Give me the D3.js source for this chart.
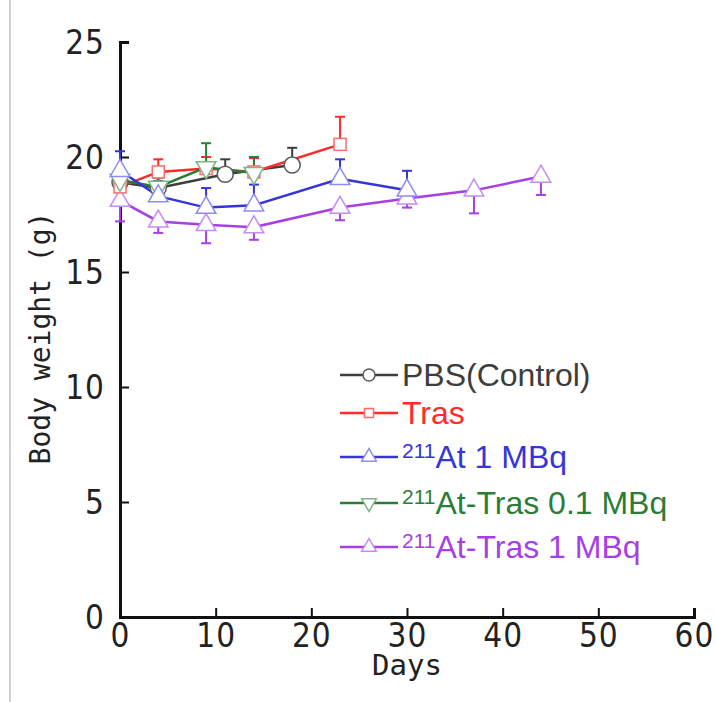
<!DOCTYPE html>
<meta charset="utf-8">
<style type="text/css">
    body{
        margin: 0;
        background: #fff;
    }
    svg{
      display: block;
    }
    .axis text{
        font-family: "Liberation Sans Narrow", "DejaVu Sans Condensed", sans-serif;
        font-size: 33px;
        letter-spacing: 1px;
        fill: #222;
    }
    .legend text{
        font-family: "Liberation Sans", Arial, sans-serif;
        font-size: 32px;
    }
</style>
<body>
<script src="https://cdn.jsdelivr.net/npm/d3@7"></script>
<script>

// series names (legend order)
var names = ["PBS(Control)", "Tras", "211At 1 MBq", "211At-Tras 0.1 MBq", "211At-Tras 1 MBq"];

// days measured for each group
var pbsDays   = [0, 4, 11, 18],
    trasDays  = [0, 4, 9, 14, 23],
    at1Days   = [0, 4, 9, 14, 23, 30],
    atT01Days = [0, 4, 9, 14],
    atT1Days  = [0, 4, 9, 14, 23, 30, 37, 44];

// mean body weight (g)
var pbsMean   = [18.9, 18.65, 19.25, 19.65],
    trasMean  = [18.7, 19.35, 19.5, 19.35, 20.55],
    at1Mean   = [19.4, 18.3, 17.8, 17.9, 19.05, 18.55],
    atT01Mean = [19.0, 18.7, 19.55, 19.3],
    atT1Mean  = [18.1, 17.2, 17.05, 16.95, 17.8, 18.2, 18.55, 19.15];

// error bar size (SD); positive = drawn up, negative = drawn down
var pbsErr   = [0.3, 0.3, 0.65, 0.75],
    trasErr  = [0.4, 0.55, 0.5, 0.6, 1.2],
    at1Err   = [0.85, 0.5, 0.85, 0.9, 0.85, 0.85],
    atT01Err = [0.3, 0.4, 1.05, 0.7],
    atT1Err  = [-0.9, -0.5, -0.8, -0.55, -0.55, -0.4, -1.0, -0.8];

var xTicks = [0, 10, 20, 30, 40, 50, 60],
    yTicks = [0, 5, 10, 15, 20, 25];

function pack(days, mean, err){
  return days.map(function(d, i){ return {day: d, w: mean[i], e: err[i]}; });
}

//line colour, marker colour, marker shape (in drawing order)
var series = [
  {name: names[0], pts: pack(pbsDays, pbsMean, pbsErr),      line: "#3d3d3d", mk: "#5a5a5a", shape: "circ"},
  {name: names[4], pts: pack(atT1Days, atT1Mean, atT1Err),   line: "#a63fe6", mk: "#c58cf2", shape: "tri"},
  {name: names[1], pts: pack(trasDays, trasMean, trasErr),   line: "#ff2a2a", mk: "#ff6a6a", shape: "sq"},
  {name: names[3], pts: pack(atT01Days, atT01Mean, atT01Err),line: "#2a7d36", mk: "#7fb585", shape: "dtri"},
  {name: names[2], pts: pack(at1Days, at1Mean, at1Err),      line: "#3535d8", mk: "#8d8df0", shape: "tri"}
];

var width = 716, height = 702;

var svg = d3.select("body")
  .append("svg")
  .attr("width", width)
  .attr("height", height);

// thin gray border line on the left of the picture
svg.append("line")
  .attr("x1", 10).attr("x2", 10)
  .attr("y1", 0).attr("y2", height)
  .attr("stroke", "#cfcfcf")
  .attr("stroke-width", 2);

var x = d3.scaleLinear().domain([0, 60]).range([120, 694]);
var y = d3.scaleLinear().domain([0, 25]).range([617, 42]);

// y axis, ticks pointing inward
var yAxis = svg.append("g")
  .attr("class", "axis")
  .attr("transform", "translate(" + x(0) + ",0)")
  .call(d3.axisRight(y).tickValues(yTicks).tickSize(9).tickFormat(d3.format("d")));
yAxis.select(".domain").attr("stroke", "#111").attr("stroke-width", 3);
yAxis.selectAll(".tick line").attr("stroke", "#111").attr("stroke-width", 2);
yAxis.selectAll(".tick text")
  .attr("x", -15)
  .attr("text-anchor", "end")
  .attr("dy", "0.36em");

// x axis, ticks pointing up
var xAxis = svg.append("g")
  .attr("class", "axis")
  .attr("transform", "translate(0," + y(0) + ")")
  .call(d3.axisTop(x).tickValues(xTicks).tickSize(9).tickFormat(d3.format("d")));
xAxis.select(".domain").attr("stroke", "#111").attr("stroke-width", 3);
xAxis.selectAll(".tick text")
  .attr("y", 30)
  .attr("dy", 0);
xAxis.selectAll(".tick line").attr("stroke", "#111").attr("stroke-width", 2);

// axis titles
svg.append("text")
  .attr("x", x(30)).attr("y", 675)
  .attr("text-anchor", "middle")
  .style("font-family", "DejaVu Sans Mono, monospace")
  .style("font-size", "29px")
  .attr("fill", "#222")
  .text("Days");

svg.append("text")
  .attr("transform", "translate(50," + 338 + ") rotate(-90)")
  .attr("text-anchor", "middle")
  .style("font-family", "DejaVu Sans Mono, monospace")
  .style("font-size", "28px")
  .attr("fill", "#222")
  .text("Body weight (g)");

//marker drawer
function marker(g, shape, cx, cy, s, col){
  if(shape == "circ"){
    g.append("circle").attr("cx", cx).attr("cy", cy).attr("r", s)
      .attr("fill", "#fff").attr("stroke", col).attr("stroke-width", 1.5);
  } else if(shape == "sq"){
    g.append("rect").attr("x", cx - s*0.75).attr("y", cy - s*0.75)
      .attr("width", s*1.5).attr("height", s*1.5)
      .attr("fill", "#fff").attr("stroke", col).attr("stroke-width", 1.5);
  } else {
    var sym = d3.symbol().type(d3.symbolTriangle).size(s*s*2.6);
    g.append("path")
      .attr("d", sym())
      .attr("transform", "translate(" + cx + "," + cy + ")" + (shape == "dtri" ? " rotate(180)" : ""))
      .attr("fill", "#fff").attr("stroke", col).attr("stroke-width", 1.5);
  }
}

var line = d3.line()
  .x(function(d){ return x(d.day); })
  .y(function(d){ return y(d.w); });

var lineLayer = svg.append("g"),
    markLayer = svg.append("g");

series.forEach(function(s){
  // error bars
  s.pts.forEach(function(p){
    lineLayer.append("line")
      .attr("x1", x(p.day)).attr("x2", x(p.day))
      .attr("y1", y(p.w)).attr("y2", y(p.w + p.e))
      .attr("stroke", s.line).attr("stroke-width", 2);
    lineLayer.append("line")
      .attr("x1", x(p.day) - 5).attr("x2", x(p.day) + 5)
      .attr("y1", y(p.w + p.e)).attr("y2", y(p.w + p.e))
      .attr("stroke", s.line).attr("stroke-width", 2);
  });

  lineLayer.append("path")
    .datum(s.pts)
    .attr("d", line)
    .attr("fill", "none")
    .attr("stroke", s.line)
    .attr("stroke-width", 2.5);

  s.pts.forEach(function(p){
    marker(markLayer, s.shape, x(p.day), y(p.w), 8, s.mk);
  });
});

// legend
var legendRows = [
  {name: names[0], s: series[0], yy: 375},
  {name: names[1], s: series[2], yy: 413},
  {name: names[2], s: series[4], yy: 457},
  {name: names[3], s: series[3], yy: 503},
  {name: names[4], s: series[1], yy: 547}
];

var legend = svg.append("g").attr("class", "legend");

legendRows.forEach(function(r){
  legend.append("line")
    .attr("x1", 340).attr("x2", 398)
    .attr("y1", r.yy).attr("y2", r.yy)
    .attr("stroke", r.s.line).attr("stroke-width", 2.5);
  marker(legend, r.s.shape, 369, r.yy, 6, r.s.mk);

  var t = legend.append("text")
    .attr("x", 402).attr("y", r.yy + 11)
    .attr("fill", r.s.line);
  if(r.name.indexOf("211") == 0){
    t.append("tspan").text("211")
      .style("font-size", "21px")
      .attr("dy", -10);
    t.append("tspan").text(r.name.slice(3))
      .attr("dy", 10);
  } else {
    t.text(r.name);
  }
});

</script>
</body>
